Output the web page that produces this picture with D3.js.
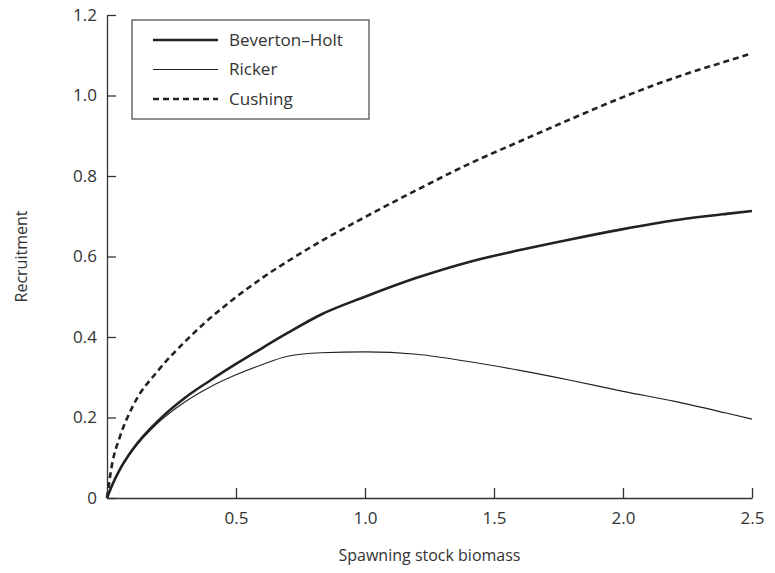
<!DOCTYPE html>
<html>
<head>
<meta charset="utf-8">
<script src="https://cdn.jsdelivr.net/npm/d3@7"></script>
<style>
  body { margin: 0; background: #fff; }
  text { font-family: "Open Sans", "Noto Sans", sans-serif; fill: #333; }
</style>
</head>
<body>
<svg id="chart" width="775" height="573"></svg>
<script>
// values
const stock = [0, 0.02, 0.05, 0.1, 0.2, 0.3, 0.4, 0.5, 0.6, 0.7, 0.83, 1.0, 1.2, 1.4, 1.6, 1.8, 2.0, 2.2, 2.4, 2.5];
const bevertonHolt = [0, 0.032, 0.071, 0.121, 0.193, 0.248, 0.292, 0.333, 0.372, 0.410, 0.456, 0.500, 0.547, 0.586, 0.616, 0.643, 0.668, 0.690, 0.706, 0.713];
const ricker = [0, 0.032, 0.070, 0.119, 0.188, 0.238, 0.276, 0.306, 0.331, 0.352, 0.361, 0.363, 0.357, 0.339, 0.317, 0.292, 0.265, 0.240, 0.211, 0.196];
const cushing = [0, 0.085, 0.152, 0.228, 0.318, 0.387, 0.447, 0.499, 0.546, 0.588, 0.638, 0.698, 0.765, 0.829, 0.886, 0.942, 0.996, 1.044, 1.085, 1.105];

const seriesNames = ['Beverton\u2013Holt', 'Ricker', 'Cushing'];
const xTicks = [0.5, 1.0, 1.5, 2.0, 2.5];
const yTicks = [0, 0.2, 0.4, 0.6, 0.8, 1.0, 1.2];

const svg = d3.select('#chart');
const margin = {top: 15, left: 107, right: 23, bottom: 75};
const width = 775 - margin.left - margin.right;
const height = 573 - margin.top - margin.bottom;

const x = d3.scaleLinear().domain([0, 2.5]).range([0, width]);
const y = d3.scaleLinear().domain([0, 1.2]).range([height, 0]);

const g = svg.append('g').attr('transform', `translate(${margin.left},${margin.top})`);

// axes, ticks point inward
const xAxis = d3.axisBottom(x).tickValues(xTicks).tickFormat(d3.format('.1f'))
  .tickSizeInner(-10).tickSizeOuter(0).tickPadding(14);
const yAxis = d3.axisLeft(y).tickValues(yTicks).tickFormat(d => d === 0 ? '0' : d3.format('.1f')(d))
  .tickSizeInner(-9).tickSizeOuter(0).tickPadding(10);

const gx = g.append('g').attr('transform', `translate(0,${height})`).call(xAxis);
const gy = g.append('g').call(yAxis);
[gx, gy].forEach(a => {
  a.select('.domain').attr('stroke', '#333').attr('stroke-width', 1.3);
  a.selectAll('.tick line').attr('stroke', '#333').attr('stroke-width', 1.3);
  a.selectAll('.tick text').style('font-size', '17px').attr('fill', '#333');
});

// curves
const styles = [
  {width: 2.6, dash: null},
  {width: 1.1, dash: null},
  {width: 2.6, dash: '6,4'}
];
const data = [bevertonHolt, ricker, cushing];
const line = d3.line()
  .x(d => x(d[0]))
  .y(d => y(d[1]))
  .curve(d3.curveMonotoneX);

data.forEach((vals, i) => {
  g.append('path')
    .datum(stock.map((s, j) => [s, vals[j]]))
    .attr('fill', 'none')
    .attr('stroke', '#222')
    .attr('stroke-width', styles[i].width)
    .attr('stroke-dasharray', styles[i].dash)
    .attr('d', line);
});

// legend
const legend = svg.append('g').attr('transform', 'translate(132,20)');
legend.append('rect')
  .attr('width', 237).attr('height', 99)
  .attr('fill', '#fff').attr('stroke', '#444').attr('stroke-width', 1.2);
seriesNames.forEach((name, i) => {
  const ly = 20 + i * 29.5;
  legend.append('line')
    .attr('x1', 21).attr('x2', 86).attr('y1', ly).attr('y2', ly)
    .attr('stroke', '#222')
    .attr('stroke-width', styles[i].width)
    .attr('stroke-dasharray', styles[i].dash);
  legend.append('text')
    .attr('x', 97).attr('y', ly).attr('dy', '0.35em')
    .style('font-size', '17px')
    .text(name);
});

// axis titles
svg.append('text')
  .attr('x', margin.left + width / 2).attr('y', 561)
  .attr('text-anchor', 'middle')
  .style('font-size', '16px')
  .text('Spawning stock biomass');

svg.append('text')
  .attr('transform', `translate(27,${margin.top + height / 2}) rotate(-90)`)
  .attr('text-anchor', 'middle')
  .style('font-size', '16px')
  .text('Recruitment');
</script>
</body>
</html>
